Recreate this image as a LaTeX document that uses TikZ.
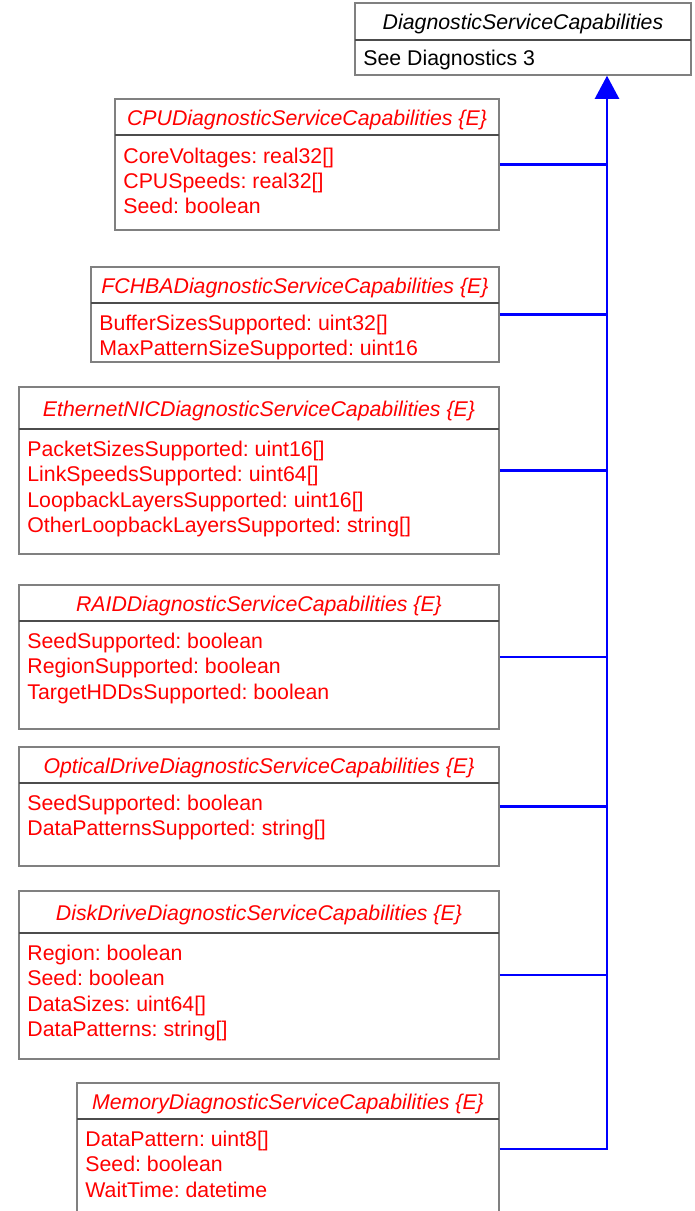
\documentclass[tikz,border=0pt]{standalone}
\usepackage{fontspec}
\setmainfont{Liberation Sans}
\usetikzlibrary{positioning}
\usetikzlibrary{fit}
\usetikzlibrary{arrows.meta}
\frenchspacing

\tikzset{
  classbox/.style={draw=gray, line width=0.75pt, inner sep=0pt},
  classline/.style={draw=black!70, line width=0.6pt},
  classname/.style={font=\fontsize{10.65}{12.8}\selectfont\itshape, anchor=base, inner sep=0pt},
  classattr/.style={font=\fontsize{10.65}{12.8}\selectfont, anchor=base west, inner sep=0pt},
  gen/.style={draw=blue, line width=1.1pt},
}

\begin{document}
\begin{tikzpicture}[x=0.5pt, y=-0.5pt]
  \useasboundingbox (0,0) rectangle (695,1211);
  \coordinate (trunk) at (607,0);
  % base class
  \node[classbox, fit={(355,3) (691,75)}] (base) {};
  \draw[classline] (355,40) -- (691,40);
  \node[classname] (base-t) at (523,29) {DiagnosticServiceCapabilities};
  \node[classattr] (base-a1) at (363,65) {See Diagnostics 3};
  % CPU
  \node[classbox, fit={(115,99) (499,230)}] (cpu) {};
  \draw[classline] (115,135) -- (499,135);
  \node[classname, red] (cpu-t) at (307,125) {CPUDiagnosticServiceCapabilities \{E\}};
  \node[classattr, red] (cpu-a1) at (123,163) {CoreVoltages: real32[]};
  \node[classattr, red] (cpu-a2) at (123,188) {CPUSpeeds: real32[]};
  \node[classattr, red] (cpu-a3) at (123,213) {Seed: boolean};
  % FC HBA
  \node[classbox, fit={(91,267) (499,362)}] (fchba) {};
  \draw[classline] (91,303) -- (499,303);
  \node[classname, red] (fchba-t) at (295,293) {FCHBADiagnosticServiceCapabilities \{E\}};
  \node[classattr, red] (fchba-a1) at (99,330) {BufferSizesSupported: uint32[]};
  \node[classattr, red] (fchba-a2) at (99,355) {MaxPatternSizeSupported: uint16};
  % Ethernet NIC
  \node[classbox, fit={(19,387) (499,554)}] (nic) {};
  \draw[classline] (19,429) -- (499,429);
  \node[classname, red] (nic-t) at (259,416) {EthernetNICDiagnosticServiceCapabilities \{E\}};
  \node[classattr, red] (nic-a1) at (27,456) {PacketSizesSupported: uint16[]};
  \node[classattr, red] (nic-a2) at (27,481) {LinkSpeedsSupported: uint64[]};
  \node[classattr, red] (nic-a3) at (27,507) {LoopbackLayersSupported: uint16[]};
  \node[classattr, red] (nic-a4) at (27,532) {OtherLoopbackLayersSupported: string[]};
  % RAID
  \node[classbox, fit={(19,585) (499,729)}] (raid) {};
  \draw[classline] (19,621) -- (499,621);
  \node[classname, red] (raid-t) at (259,611) {RAIDDiagnosticServiceCapabilities \{E\}};
  \node[classattr, red] (raid-a1) at (27,648) {SeedSupported: boolean};
  \node[classattr, red] (raid-a2) at (27,673) {RegionSupported: boolean};
  \node[classattr, red] (raid-a3) at (27,699) {TargetHDDsSupported: boolean};
  % optical drive
  \node[classbox, fit={(19,747) (499,866)}] (optical) {};
  \draw[classline] (19,783) -- (499,783);
  \node[classname, red] (optical-t) at (259,773) {OpticalDriveDiagnosticServiceCapabilities \{E\}};
  \node[classattr, red] (optical-a1) at (27,810) {SeedSupported: boolean};
  \node[classattr, red] (optical-a2) at (27,835) {DataPatternsSupported: string[]};
  % disk drive
  \node[classbox, fit={(19,891) (499,1059)}] (disk) {};
  \draw[classline] (19,933) -- (499,933);
  \node[classname, red] (disk-t) at (259,920) {DiskDriveDiagnosticServiceCapabilities \{E\}};
  \node[classattr, red] (disk-a1) at (27,960) {Region: boolean};
  \node[classattr, red] (disk-a2) at (27,985) {Seed: boolean};
  \node[classattr, red] (disk-a3) at (27,1011) {DataSizes: uint64[]};
  \node[classattr, red] (disk-a4) at (27,1036) {DataPatterns: string[]};
  % memory
  \node[classbox, fit={(77,1083) (499,1215)}] (mem) {};
  \draw[classline] (77,1119) -- (499,1119);
  \node[classname, red] (mem-t) at (288,1109) {MemoryDiagnosticServiceCapabilities \{E\}};
  \node[classattr, red] (mem-a1) at (85,1146) {DataPattern: uint8[]};
  \node[classattr, red] (mem-a2) at (85,1171) {Seed: boolean};
  \node[classattr, red] (mem-a3) at (85,1197) {WaitTime: datetime};
  % generalisation
  \draw[gen, -{Triangle[length=11.5pt, width=12pt]}] (mem.east) -| (base.south -| trunk);
  \draw[gen] (cpu.east) -- (cpu.east -| trunk);
  \draw[gen] (fchba.east) -- (fchba.east -| trunk);
  \draw[gen] (nic.east) -- (nic.east -| trunk);
  \draw[gen] (raid.east) -- (raid.east -| trunk);
  \draw[gen] (optical.east) -- (optical.east -| trunk);
  \draw[gen] (disk.east) -- (disk.east -| trunk);
\end{tikzpicture}
\end{document}
